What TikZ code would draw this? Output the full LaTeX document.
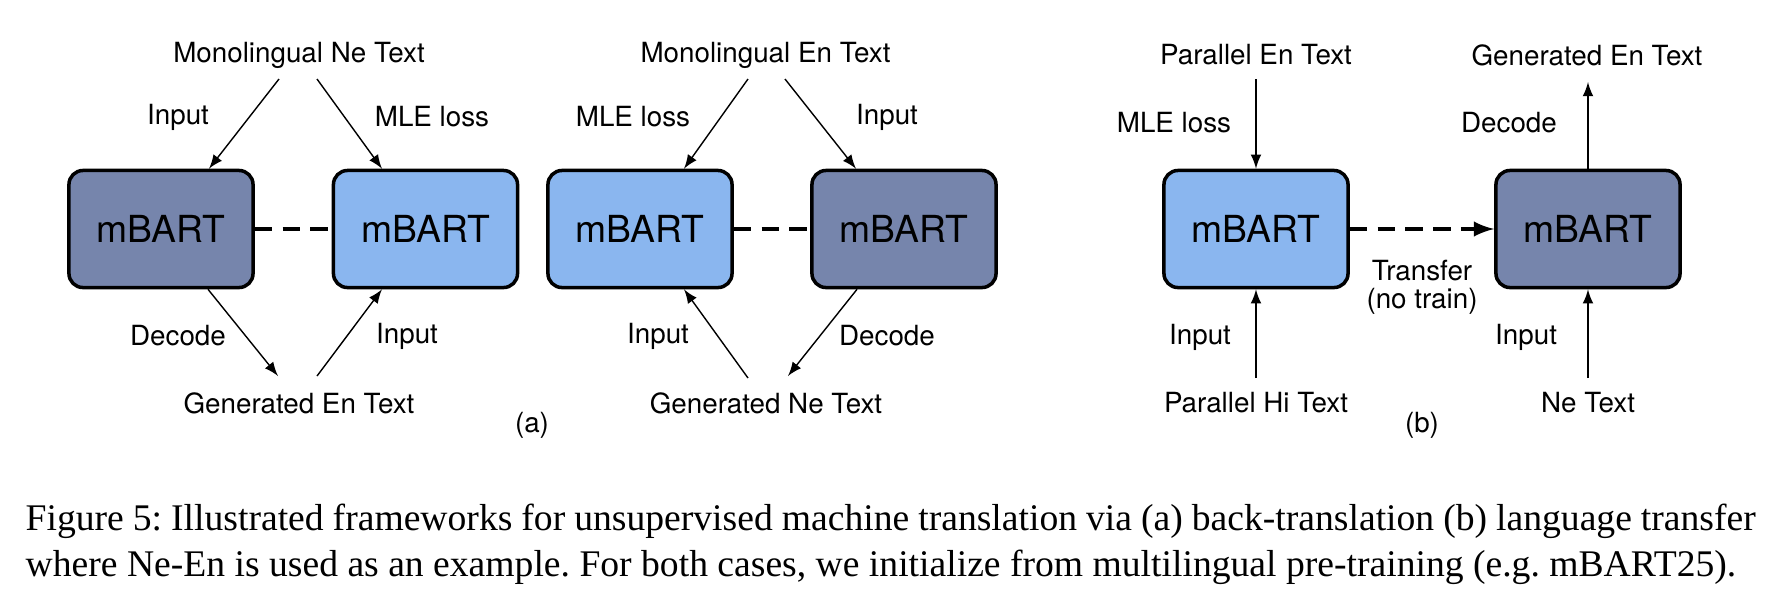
\documentclass[tikz,border=0pt]{standalone}
\usepackage{fontspec}
\setmainfont{Liberation Serif}
\setsansfont{TeX Gyre Heros}
\usetikzlibrary{arrows,calc}
\definecolor{escuro}{RGB}{118,133,172}
\definecolor{claro}{RGB}{138,182,239}
\tikzset{
  modelo/.style={draw,line width=1pt,rounded corners=4pt,minimum width=1.84cm,
    minimum height=1.17cm,inner sep=0pt,font=\sffamily\fontsize{10.6}{12}\selectfont},
  rotulo/.style={inner sep=0pt,font=\sffamily\fontsize{7.9}{9.5}\selectfont,align=center},
  seta/.style={->,line width=.4pt},
  tracejado/.style={line width=1pt,dash pattern=on 5pt off 2.9pt}
}

\begin{document}
\begin{tikzpicture}[>=latex,x=0.01cm,y=-0.01cm]
	\useasboundingbox (0,0) rectangle (1778,608);
	% caixas
	\node[modelo,fill=escuro] (b1) at (161,229) {mBART};
	\node[modelo,fill=claro] (b2) at (425.5,229) {mBART};
	\node[modelo,fill=claro] (b3) at (640,229) {mBART};
	\node[modelo,fill=escuro] (b4) at (904,229) {mBART};
	\node[modelo,fill=claro] (b5) at (1256,229) {mBART};
	\node[modelo,fill=escuro] (b6) at (1588,229) {mBART};
	% textos (a)
	\node[rotulo] (monoNe) at (299,55) {Monolingual Ne Text};
	\node[rotulo] (genEn) at (299,403) {Generated En Text};
	\node[rotulo] (monoEn) at (765.5,55) {Monolingual En Text};
	\node[rotulo] (genNe) at (766,403) {Generated Ne Text};
	\node[rotulo] (in1) at (178,117) {Input};
	\node[rotulo] (mle1) at (432,117) {MLE loss};
	\node[rotulo] (dec1) at (178,336) {Decode};
	\node[rotulo] (in2) at (407,336) {Input};
	\node[rotulo] (mle2) at (633,117) {MLE loss};
	\node[rotulo] (in3) at (887,117) {Input};
	\node[rotulo] (in4) at (658,336) {Input};
	\node[rotulo] (dec2) at (887,336) {Decode};
	\node[rotulo] (a) at (532,425) {(a)};
	% textos (b)
	\node[rotulo] (parEn) at (1256,55) {Parallel En Text};
	\node[rotulo] (genEn2) at (1587,55) {Generated En Text};
	\node[rotulo] (parHi) at (1256,403) {Parallel Hi Text};
	\node[rotulo] (ne) at (1588,403) {Ne Text};
	\node[rotulo] (mle3) at (1174,123) {MLE loss};
	\node[rotulo] (dec3) at (1509,123) {Decode};
	\node[rotulo] (in5) at (1200,337) {Input};
	\node[rotulo] (in6) at (1526,337) {Input};
	\node[rotulo] (transf) at (1422,287) {Transfer\\[-1.5pt](no train)};
	\node[rotulo] (b) at (1422,425) {(b)};
	% setas (a)
	\draw[seta] ($(monoNe)+(-20,24)$) -- ($(b1.north)+(48,0)$);
	\draw[seta] ($(monoNe)+(18,24)$) -- ($(b2.north)+(-43.5,0)$);
	\draw[seta] ($(b1.south)+(47,0)$) -- ($(genEn)+(-21,-27)$);
	\draw[seta] ($(genEn)+(18,-27)$) -- ($(b2.south)+(-43.5,0)$);
	\draw[seta] ($(monoEn)+(-17.5,24)$) -- ($(b3.north)+(44,0)$);
	\draw[seta] ($(monoEn)+(19.5,24)$) -- ($(b4.north)+(-48,0)$);
	\draw[seta] ($(genNe)+(-18,-25)$) -- ($(b3.south)+(44,0)$);
	\draw[seta] ($(b4.south)+(-47,0)$) -- ($(genNe)+(22,-27)$);
	\draw[tracejado] (b1.east) -- (b2.west);
	\draw[tracejado] (b3.east) -- (b4.west);
	% setas (b)
	\draw[seta] ($(parEn)+(0,24)$) -- (b5.north);
	\draw[seta] ($(parHi)+(0,-25)$) -- (b5.south);
	\draw[seta] (b6.north) -- ($(genEn2)+(1,27)$);
	\draw[seta] ($(ne)+(0,-25)$) -- (b6.south);
	\draw[tracejado,->] (b5.east) -- (b6.west);
	% legenda
	\node[anchor=base west,inner sep=0pt,text width=1730*0.01cm,align=justify,
	  font=\fontsize{10.7}{13.1}\selectfont\frenchspacing] (leg) at (25,530)
	  {Figure 5: Illustrated frameworks for unsupervised machine translation via (a) back-translation (b) language transfer\linebreak
	   where Ne-En is used as an example. For both cases, we initialize from multilingual pre-training (e.g. mBART25).};
\end{tikzpicture}
\end{document}
